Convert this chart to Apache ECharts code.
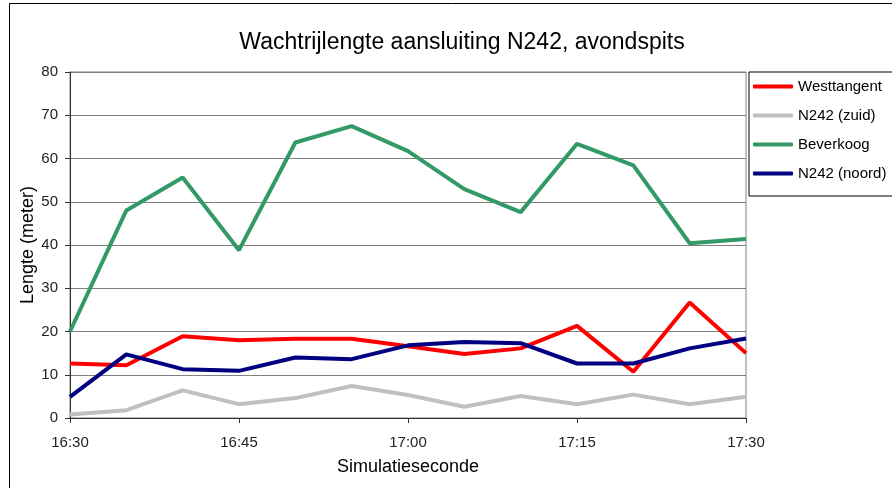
<!DOCTYPE html>
<html>
<head>
<meta charset="utf-8">
<script src="https://cdn.jsdelivr.net/npm/echarts@6/dist/echarts.min.js"></script>
<style>
  html, body { margin: 0; padding: 0; background: #fff; }
  #chart { width: 892px; height: 488px; }
</style>
</head>
<body>
<div id="chart"></div>
<script>
// tijdstippen (elke 5 minuten)
var times = ['16:30', '16:35', '16:40', '16:45', '16:50', '16:55', '17:00',
             '17:05', '17:10', '17:15', '17:20', '17:25', '17:30'];

var westtangent = [12.6, 12.2, 18.9, 18.0, 18.3, 18.3, 16.6, 14.8, 16.1, 21.3, 10.7, 26.7, 15.0];
var n242Zuid    = [0.8, 1.8, 6.4, 3.2, 4.6, 7.4, 5.3, 2.6, 5.1, 3.2, 5.4, 3.2, 4.9];
var beverkoog   = [20.0, 48.0, 55.6, 38.8, 63.7, 67.5, 61.7, 52.9, 47.6, 63.4, 58.4, 40.4, 41.4];
var n242Noord   = [4.9, 14.7, 11.3, 10.9, 14.0, 13.6, 16.8, 17.6, 17.3, 12.6, 12.6, 16.1, 18.4];

var seriesNames = ['Westtangent', 'N242 (zuid)', 'Beverkoog', 'N242 (noord)'];
var seriesData = [westtangent, n242Zuid, beverkoog, n242Noord];
var colors = ['#ff0000', '#c0c0c0', '#339966', '#000080'];

var font = 'Liberation Sans, Arial, sans-serif';

var chart = echarts.init(document.getElementById('chart'));

var option = {
    animation: false,
    color: colors,
    title: {
        text: 'Wachtrijlengte aansluiting N242, avondspits',
        left: 457,
        textAlign: 'center',
        top: 26,
        textStyle: { fontFamily: font, fontSize: 23, fontWeight: 'normal', color: '#000' }
    },
    graphic: [{
        type: 'rect',
        shape: { x: 9.5, y: 3.5, width: 900, height: 500 },
        style: { fill: null, stroke: '#000', lineWidth: 1 },
        silent: true
    }],
    legend: {
        orient: 'vertical',
        left: 749,
        top: 72,
        padding: [7, 20, 15, 4],
        itemGap: 14,
        itemWidth: 40,
        itemHeight: 4,
        icon: 'roundRect',
        borderColor: '#000',
        borderWidth: 1,
        textStyle: { fontFamily: font, fontSize: 15, color: '#000' },
        data: seriesNames
    },
    grid: {
        left: 70,
        right: 146,
        top: 72,
        bottom: 70,
        show: true,
        borderColor: '#808080',
        borderWidth: 1
    },
    xAxis: {
        type: 'category',
        data: times,
        boundaryGap: false,
        name: 'Simulatieseconde',
        nameLocation: 'middle',
        nameGap: 40,
        nameTextStyle: { fontFamily: font, fontSize: 18, color: '#000' },
        axisLine: { lineStyle: { color: '#333', width: 1 } },
        axisTick: { interval: 2, length: 5, lineStyle: { color: '#333' } },
        axisLabel: { interval: 2, margin: 17, fontFamily: font, fontSize: 15, color: '#222' },
        splitLine: { show: false }
    },
    yAxis: {
        type: 'value',
        min: 0,
        max: 80,
        interval: 10,
        name: 'Lengte (meter)',
        nameLocation: 'middle',
        nameGap: 33,
        nameMoveOverlap: false,
        nameTextStyle: { fontFamily: font, fontSize: 18, color: '#000' },
        axisLine: { show: true, lineStyle: { color: '#333', width: 1 } },
        axisTick: { show: true, length: 5, lineStyle: { color: '#333' } },
        axisLabel: { margin: 12, fontFamily: font, fontSize: 15, color: '#222' },
        splitLine: { lineStyle: { color: '#808080', width: 1 } }
    },
    series: seriesNames.map(function (name, i) {
        return {
            name: name,
            type: 'line',
            data: seriesData[i],
            showSymbol: false,
            symbol: 'none',
            lineStyle: { width: 4, color: colors[i] },
            itemStyle: { color: colors[i] }
        };
    })
};

chart.setOption(option);
</script>
</body>
</html>
